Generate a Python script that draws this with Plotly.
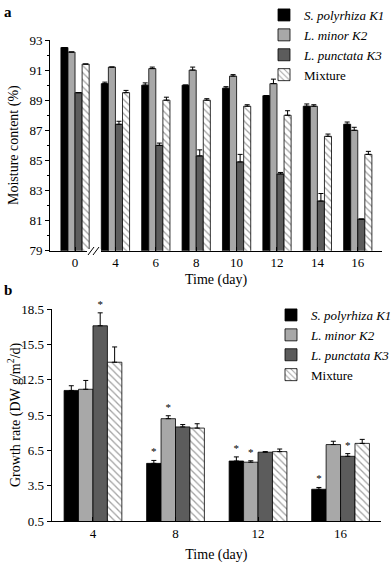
import plotly.graph_objects as go
from plotly.subplots import make_subplots

# ---- datos panel a: contenido de humedad (%)
dias_a = ['0', '4', '6', '8', '10', '12', '14', '16']
hum_k1 = [92.5, 90.1, 90.0, 90.0, 89.8, 89.3, 88.6, 87.4]
hum_k2 = [92.2, 91.2, 91.1, 91.0, 90.6, 90.1, 88.6, 87.0]
hum_k3 = [89.5, 87.4, 86.0, 85.3, 84.9, 84.1, 82.3, 81.1]
hum_mix = [91.4, 89.5, 89.0, 89.0, 88.6, 88.0, 86.6, 85.4]
err_hum_k1 = [0, 0.1, 0.15, 0, 0.1, 0, 0.15, 0.15]
err_hum_k2 = [0, 0, 0.1, 0.2, 0.1, 0.3, 0.1, 0.2]
err_hum_k3 = [0, 0.2, 0.15, 0.4, 0.5, 0.1, 0.5, 0]
err_hum_mix = [0, 0.15, 0.2, 0.1, 0.1, 0.3, 0.15, 0.2]

# ---- datos panel b: tasa de crecimiento (DW g/m2/d)
dias_b = ['4', '8', '12', '16']
crec_k1 = [11.6, 5.4, 5.6, 3.2]
crec_k2 = [11.7, 9.2, 5.5, 7.0]
crec_k3 = [17.1, 8.5, 6.35, 6.0]
crec_mix = [14.0, 8.4, 6.4, 7.1]
err_crec_k1 = [0.4, 0.25, 0.35, 0.15]
err_crec_k2 = [0.75, 0.25, 0.12, 0.28]
err_crec_k3 = [1.1, 0.2, 0.05, 0.23]
err_crec_mix = [1.3, 0.37, 0.22, 0.34]
# asteriscos de significancia
sig_k1 = ['', '*', '*', '*']
sig_k2 = ['', '*', '*', '']
sig_k3 = ['*', '', '', '*']
sig_mix = ['', '', '', '']

nombres = ['<i>S. polyrhiza K1</i>', '<i>L. minor K2</i>', '<i>L. punctata K3</i>', 'Mixture']
colores = ['#000000', '#a8a8a8', '#5c5c5c', '#ffffff']
grupos = ['k1', 'k2', 'k3', 'mix']
FUENTE = 'Liberation Serif, Times New Roman, serif'

fig = make_subplots(rows=2, cols=1)


def agregar_barras(x, series, errores, row, legend, signif=None):
    for i, (ys, er) in enumerate(zip(series, errores)):
        marker = dict(color=colores[i], line=dict(color='black', width=0.8))
        if grupos[i] == 'mix':
            marker['pattern'] = dict(shape='\\', fgcolor='#444444', bgcolor='white',
                                     size=5, solidity=0.25)
        fig.add_trace(
            go.Bar(
                x=x, y=ys, name=nombres[i], marker=marker,
                offsetgroup=grupos[i], legend=legend,
                error_y=dict(type='data', array=er, arrayminus=[0] * len(er),
                             symmetric=False, color='black', thickness=1, width=2.5),
            ),
            row=row, col=1
        )
        if signif is not None:
            tope = [v + e for v, e in zip(ys, er)]
            fig.add_trace(
                go.Bar(
                    x=x, y=tope, offsetgroup=grupos[i], showlegend=False,
                    marker=dict(color='rgba(0,0,0,0)', line=dict(width=0)),
                    text=[s if s else ' ' for s in signif[i]],
                    textposition='outside', cliponaxis=False,
                    textfont=dict(size=11, color='black', family=FUENTE),
                    hoverinfo='skip'
                ),
                row=row, col=1
            )


agregar_barras(dias_a, [hum_k1, hum_k2, hum_k3, hum_mix],
               [err_hum_k1, err_hum_k2, err_hum_k3, err_hum_mix], 1, 'legend')
agregar_barras(dias_b, [crec_k1, crec_k2, crec_k3, crec_mix],
               [err_crec_k1, err_crec_k2, err_crec_k3, err_crec_mix], 2, 'legend2',
               signif=[sig_k1, sig_k2, sig_k3, sig_mix])

W, H = 391, 563
eje = dict(showline=True, linecolor='black', linewidth=1, showgrid=False, zeroline=False,
           automargin=False,
           tickfont=dict(size=13, color='black', family=FUENTE), tickcolor='black')

fig.update_xaxes(**eje, type='category', ticks='inside', ticklen=4)
fig.update_yaxes(**eje, ticks='outside', ticklen=4)

titulo_x = dict(text='Time (day)', font=dict(size=14, color='black', family=FUENTE))
fig.update_xaxes(domain=[50 / W, 382 / W], range=[-0.62, 7.6],
                 title=dict(**titulo_x, standoff=4), row=1, col=1)
fig.update_xaxes(domain=[51.7 / W, 381 / W], range=[-0.5, 3.49],
                 title=dict(**titulo_x, standoff=12), row=2, col=1)
fig.update_yaxes(domain=[1 - 250.7 / H, 1 - 40 / H], range=[79, 93], tick0=79, dtick=2,
                 minor=dict(ticks='outside', ticklen=2, dtick=1, tickcolor='black'),
                 row=1, col=1)
fig.update_yaxes(domain=[1 - 521 / H, 1 - 309.3 / H], range=[0.5, 18.5], tick0=0.5, dtick=3,
                 row=2, col=1)

titulo_y = dict(xref='paper', yref='paper', textangle=-90, showarrow=False,
                xanchor='center', yanchor='middle',
                font=dict(size=14, color='black', family=FUENTE))
leyenda = dict(bgcolor='rgba(0,0,0,0)', font=dict(size=13, color='black', family=FUENTE),
               itemwidth=30, tracegroupgap=0, xanchor='left', yanchor='top')
fig.update_layout(
    width=W, height=H,
    margin=dict(l=0, r=0, t=0, b=0, autoexpand=False),
    paper_bgcolor='white', plot_bgcolor='white',
    barmode='group', bargap=0.3, bargroupgap=0,
    font=dict(family=FUENTE, color='black'),
    legend=dict(**leyenda, x=264 / W, y=1 - 0 / H),
    legend2=dict(**leyenda, x=271 / W, y=1 - 300 / H),
    annotations=[
        dict(text='<b>a</b>', x=2 / W, y=1 - 2 / H, xref='paper', yref='paper',
             xanchor='left', yanchor='top', showarrow=False, font=dict(size=15)),
        dict(text='<b>b</b>', x=2 / W, y=1 - 280 / H, xref='paper', yref='paper',
             xanchor='left', yanchor='top', showarrow=False, font=dict(size=15)),
        dict(text='Moisture content (%)', x=14 / W, y=1 - 145 / H, **titulo_y),
        dict(text='Growth rate (DW g/m<sup>2</sup>/d)', x=14 / W, y=1 - 415 / H, **titulo_y),
    ],
)

# corte del eje x entre 0 y 4
fig.add_shape(type='rect', xref='paper', yref='paper', x0=87 / W, x1=101 / W,
              y0=1 - 252.5 / H, y1=1 - 249 / H, fillcolor='white', line_width=0)
for dx in (0, 5):
    fig.add_shape(type='line', xref='paper', yref='paper',
                  x0=(88 + dx) / W, x1=(94 + dx) / W, y0=1 - 255 / H, y1=1 - 247 / H,
                  line=dict(color='black', width=1))

# sin margen del body para que la figura ocupe la ventana exacta
fig.write_html('out.html', config={'displayModeBar': False},
               post_script="document.body.style.margin='0';")
